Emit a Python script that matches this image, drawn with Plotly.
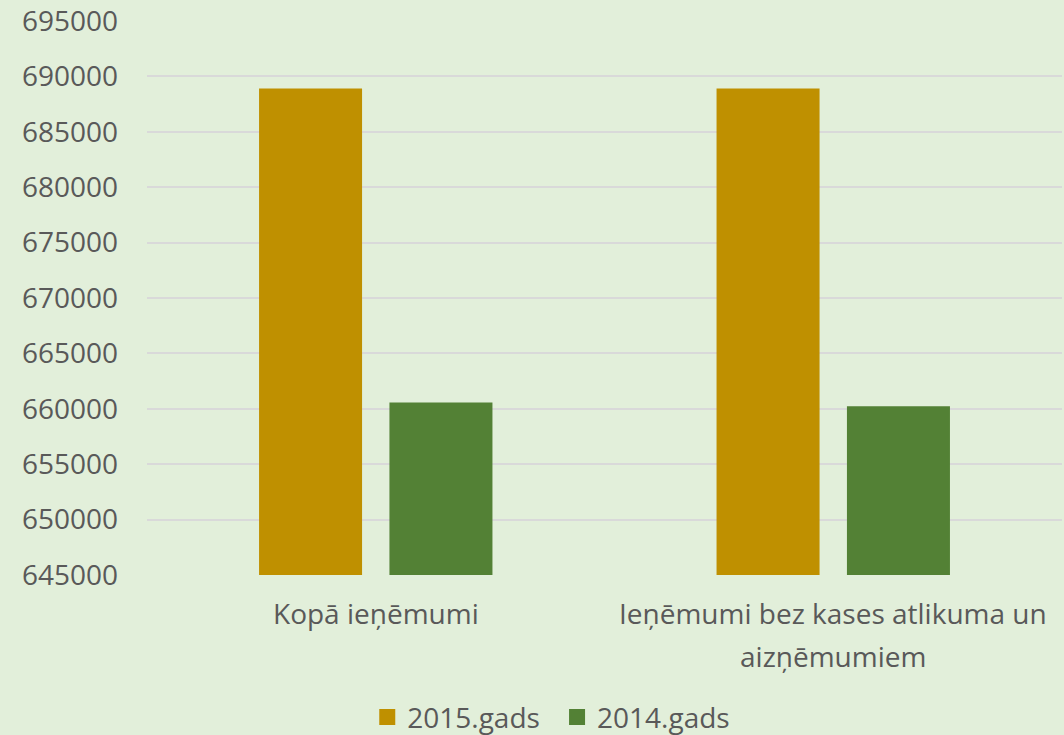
import plotly.graph_objects as go

categories = ["Kopā ieņēmumi", "Ieņēmumi bez kases atlikuma un aizņēmumiem"]
category_lines = [["Kopā ieņēmumi"], ["Ieņēmumi bez kases atlikuma un", "aizņēmumiem"]]
series_names = ["2015.gads", "2014.gads"]
values_2015 = [688900, 688900]
values_2014 = [660570, 660240]
y_ticks = [645000, 650000, 655000, 660000, 665000, 670000, 675000, 680000, 685000, 690000, 695000]
colors = ["#BF9000", "#538135"]

BG = "#E2EFDA"
FONT = "Open Sans"
TXT = "#595959"
FS = 28

W, H = 1064, 735
L, R, T, B = 146.5, 1.5, 20.5, 159.5
ph = H - T - B
pw = W - L - R

legend_ids = ["legend", "legend2"]
legend_left = [379, 569]

fig = go.Figure()
for name, vals, col in zip(series_names, [values_2015, values_2014], colors):
    fig.add_trace(go.Bar(name=name, x=categories, y=vals, showlegend=False,
                         marker=dict(color=col, line=dict(width=0))))
for name, col, lid in zip(series_names, colors, legend_ids):
    fig.add_trace(go.Scatter(name=name, x=[None], y=[None], mode="markers", legend=lid,
                             marker=dict(symbol="square", size=18, color=col, line=dict(width=0))))

annotations = []
for cat, lines in zip(categories, category_lines):
    for i, ln in enumerate(lines):
        cy = 614 + 43 * i
        annotations.append(dict(x=cat, xref="x", y=(H - B - cy) / ph, yref="paper",
                                text=ln, showarrow=False, xanchor="center", yanchor="middle",
                                font=dict(family=FONT, size=FS, color=TXT)))

def legend_cfg(left):
    return dict(orientation="h", x=(left - 12 - L) / pw, xanchor="left",
                y=(H - B - 718) / ph, yanchor="middle",
                font=dict(family=FONT, size=FS, color=TXT), bgcolor="rgba(0,0,0,0)",
                itemwidth=30)

fig.update_layout(
    width=W, height=H,
    margin=dict(l=L, r=R, t=T, b=B, pad=0, autoexpand=False),
    paper_bgcolor=BG, plot_bgcolor=BG,
    barmode="group", bargap=0.43, bargroupgap=0.21,
    font=dict(family=FONT, size=FS, color=TXT),
    showlegend=True,
    legend=legend_cfg(legend_left[0]),
    legend2=legend_cfg(legend_left[1]),
    xaxis=dict(showticklabels=False, showgrid=False, zeroline=False, showline=False),
    yaxis=dict(range=[645000, 695000], tickvals=y_ticks, ticktext=[str(v) for v in y_ticks],
               showgrid=True, gridcolor="#D9D9D9", gridwidth=1.5, zeroline=False, showline=False,
               ticks="", ticklabelstandoff=28,
               tickfont=dict(family=FONT, size=FS, color=TXT)),
    annotations=annotations,
)

fig.write_html("out.html", config={"displayModeBar": False},
               post_script="document.body.style.margin='0';document.body.style.overflow='hidden';")
